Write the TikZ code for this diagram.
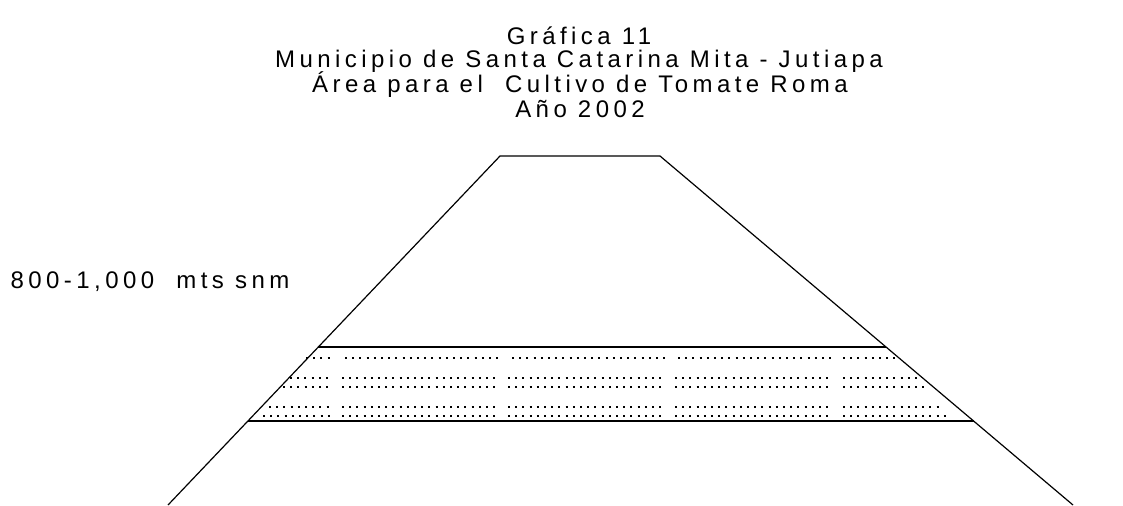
\documentclass[tikz,border=0pt]{standalone}
\usepackage{fontspec}
\setmainfont{Liberation Sans}[LetterSpace=18.5]
\usetikzlibrary{calc}
\tikzset{
  edge/.style={line width=0.6pt},
  dotrow/.style={line width=1pt, dash pattern=on 1pt off 2.6pt},
  lbl/.style={inner sep=0pt, font=\fontsize{12}{14}\selectfont}
}
\begin{document}
\begin{tikzpicture}[x=0.5pt,y=-0.5pt]
      \useasboundingbox (0,0) rectangle (1123,505);
      \draw
        (579,36) node[lbl] (t1){Gráfica 11}
        (579,61) node[lbl] (t2){Municipio de Santa Catarina Mita - Jutiapa}
        (580,85) node[lbl] (t3){Área para el\ \ Cultivo de Tomate Roma}
        (580,109) node[lbl] (t4){Año 2002}
        (150,282) node[lbl] (alt){800-1,000\ \ mts snm};
      \coordinate (TL) at (500,156);
      \coordinate (TR) at (660,156);
      \coordinate (BL) at (168,505);
      \coordinate (BR) at (1073,505);
      \begin{scope}[edge]
        \draw (BL) -- (TL) -- (TR) -- (BR);
        \draw ($(TL)!191/349!(BL)$) -- ($(TR)!191/349!(BR)$);
        \draw ($(TL)!265/349!(BL)$) -- ($(TR)!265/349!(BR)$);
      \end{scope}
      \begin{scope}[dotrow]
        \foreach \a/\b in {306/330,345/500,512/667,678/834,843/898}
          \draw (\a,358) -- (\b,358);
        \foreach \y/\s/\e in {378/290/921,387/283/928,407/269/943,416/263/949}
          \foreach \a/\b in {\s/330,342/497,508/663,675/831,843/\e}
            \draw (\a,\y) -- (\b,\y);
      \end{scope}
    \end{tikzpicture}
\end{document}
